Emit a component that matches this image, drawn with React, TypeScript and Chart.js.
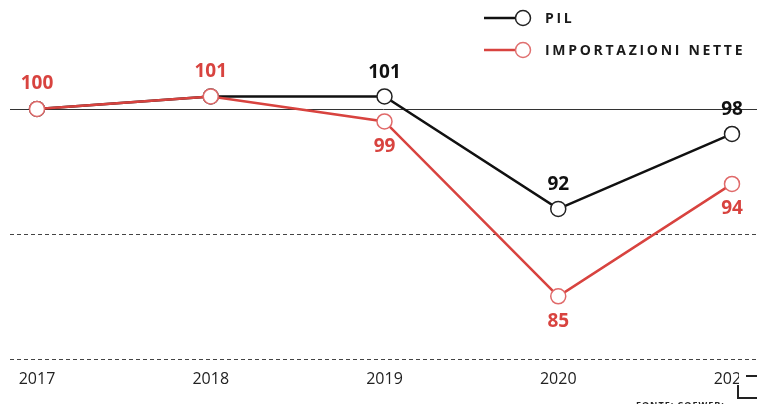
import React, { useEffect, useRef } from "react";
import { Chart, registerables } from "chart.js";

Chart.register(...registerables);

const years = ["2017", "2018", "2019", "2020", "2021"];
const pil = [100, 101, 101, 92, 98];
const importazioni = [100, 101, 99, 85, 94];
const pilLabelsShown = [false, false, true, true, true];
const impLabelPos = ["above", "above", "below", "below", "below"];
const gridValues = [100, 90, 80];

const RED = "#d8433f";
const BLACK = "#111111";

export default function App() {
  const ref = useRef<HTMLCanvasElement | null>(null);
  useEffect(() => {
    document.body.style.margin = "0";
    const canvas = ref.current!;
    const overlay = {
      id: "overlay",
      beforeDatasetsDraw(chart: any) {
        const ctx = chart.ctx;
        const y = chart.scales.y;
        ctx.save();
        gridValues.forEach((v) => {
          const py = Math.round(y.getPixelForValue(v)) + 0.5;
          ctx.beginPath();
          ctx.lineWidth = 1;
          if (v === 100) {
            ctx.setLineDash([]);
            ctx.strokeStyle = "#333";
          } else {
            ctx.setLineDash([4, 3]);
            ctx.strokeStyle = "#444";
          }
          ctx.moveTo(10, py);
          ctx.lineTo(757, py);
          ctx.stroke();
        });
        ctx.restore();
      },
      afterDraw(chart: any) {
        const ctx = chart.ctx;
        ctx.save();
        ctx.font = "700 19px 'Open Sans'";
        ctx.textAlign = "center";
        ctx.textBaseline = "middle";
        const mPil = chart.getDatasetMeta(1);
        const mImp = chart.getDatasetMeta(0);
        mPil.data.forEach((p: any, i: number) => {
          if (!pilLabelsShown[i]) return;
          ctx.fillStyle = BLACK;
          ctx.fillText(String(pil[i]), p.x, p.y - 24);
        });
        mImp.data.forEach((p: any, i: number) => {
          ctx.fillStyle = RED;
          const dy = impLabelPos[i] === "above" ? -25 : 25;
          ctx.fillText(String(importazioni[i]), p.x, p.y + dy);
        });
        // legend
        const items = [
          { label: "PIL", color: BLACK, y: 18 },
          { label: "IMPORTAZIONI NETTE", color: RED, y: 50 },
        ];
        items.forEach((it) => {
          ctx.beginPath();
          ctx.setLineDash([]);
          ctx.lineWidth = 2.5;
          ctx.strokeStyle = it.color;
          ctx.moveTo(484, it.y);
          ctx.lineTo(516, it.y);
          ctx.stroke();
          ctx.beginPath();
          ctx.arc(523, it.y, 7.5, 0, Math.PI * 2);
          ctx.fillStyle = "#fff";
          ctx.fill();
          ctx.lineWidth = 1.5;
          ctx.strokeStyle = it.color === RED ? "#e07070" : "#222";
          ctx.stroke();
          ctx.font = "700 14px 'Open Sans'";
          (ctx as any).letterSpacing = "2.7px";
          ctx.textAlign = "left";
          ctx.fillStyle = "#1a1a1a";
          ctx.fillText(it.label, 545, it.y + 1);
          (ctx as any).letterSpacing = "0px";
        });
        // footer / cropped corner
        ctx.font = "700 9px 'Open Sans'";
        (ctx as any).letterSpacing = "1px";
        ctx.textAlign = "left";
        ctx.textBaseline = "alphabetic";
        ctx.fillStyle = "#222";
        ctx.fillText("FONTE: COEWEB:", 636, 408);
        (ctx as any).letterSpacing = "0px";
        ctx.fillStyle = "#fff";
        ctx.fillRect(739, 366, 18, 38);
        ctx.strokeStyle = "#222";
        ctx.lineWidth = 2;
        ctx.beginPath();
        ctx.moveTo(746, 376);
        ctx.lineTo(757, 376);
        ctx.moveTo(738, 385);
        ctx.lineTo(738, 398);
        ctx.lineTo(757, 398);
        ctx.stroke();
        ctx.restore();
      },
    };
    const chart = new Chart(canvas, {
      type: "line",
      data: {
        labels: years,
        datasets: [
          {
            label: "IMPORTAZIONI NETTE",
            data: importazioni,
            borderColor: RED,
            borderWidth: 2.5,
            pointRadius: 7.5,
            pointBackgroundColor: "#fff",
            pointBorderColor: "#e06a6a",
            pointBorderWidth: 1.5,
            tension: 0,
          },
          {
            label: "PIL",
            data: pil,
            borderColor: BLACK,
            borderWidth: 2.5,
            pointRadius: 7.5,
            pointBackgroundColor: "#fff",
            pointBorderColor: "#222",
            pointBorderWidth: 1.5,
            tension: 0,
          },
        ],
      },
      options: {
        animation: false,
        responsive: false,
        events: [],
        layout: { padding: { left: 37, right: 25, top: 0, bottom: 12 } },
        plugins: { legend: { display: false }, tooltip: { enabled: false } },
        scales: {
          x: {
            offset: false,
            grid: { display: false },
            border: { display: false },
            ticks: {
              padding: 3,
              color: "#222",
              font: { family: "'Open Sans'", size: 16 },
              maxRotation: 0,
            },
          },
          y: {
            display: false,
            min: 80,
            max: 108,
          },
        },
      },
      plugins: [overlay],
    });
    return () => chart.destroy();
  }, []);
  return <canvas ref={ref} width={757} height={404} style={{ display: "block" }} />;
}
